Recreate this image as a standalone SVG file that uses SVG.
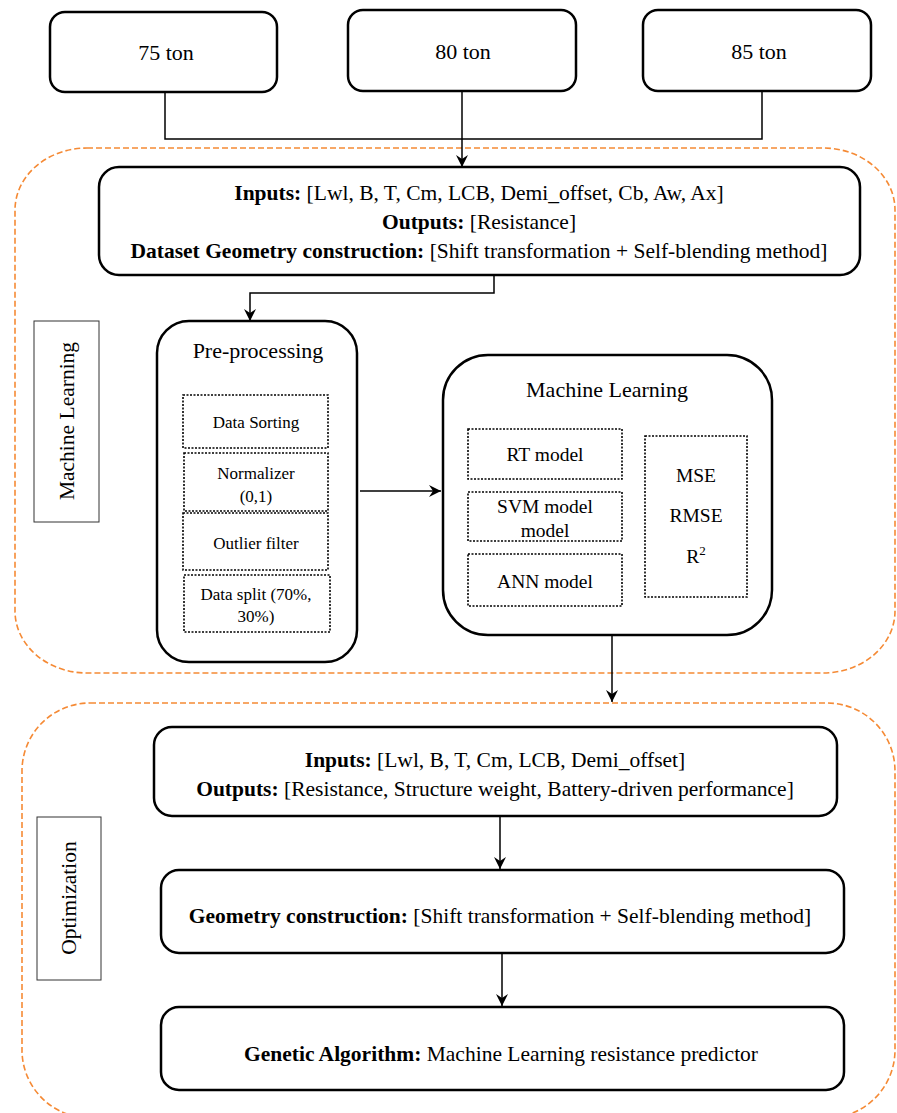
<svg xmlns="http://www.w3.org/2000/svg" width="897" height="1113" viewBox="0 0 897 1113">
<style>
text{font-family:"Liberation Serif","Times New Roman",serif;fill:#000;text-anchor:middle}
.t21{font-size:21.5px}
.t22{font-size:22px}
.t17{font-size:17px}
.t19{font-size:19.5px}
.b{font-weight:bold}
.box{fill:#fff;stroke:#000;stroke-width:2.5}
.dot{fill:#fff;stroke:#000;stroke-width:1.6;stroke-dasharray:2 1.5}
.lab{fill:#fff;stroke:#333;stroke-width:1}
.grp{fill:none;stroke:#f58a35;stroke-width:1.6;stroke-dasharray:6 3}
.con{fill:none;stroke:#000;stroke-width:1.5}
</style>
<defs>
<marker id="ah" viewBox="0 0 12 12" refX="12" refY="6" markerWidth="12" markerHeight="12" markerUnits="userSpaceOnUse" orient="auto">
<path d="M0,0 L12,6 L0,12 L4,6 Z" fill="#000"/>
</marker>
</defs>
<rect width="897" height="1113" fill="#fff"/>
<g id="groups">
<rect class="grp" x="15" y="148" width="880" height="525" rx="72" ry="62"/>
<rect class="grp" x="22" y="703" width="873" height="415" rx="68" ry="68"/>
</g>
<g id="connectors">
<path class="con" d="M165,92 V139 H762 V91"/>
<path class="con" d="M462,91 V167" marker-end="url(#ah)"/>
<path class="con" d="M494,275 V293 H250 V321" marker-end="url(#ah)"/>
<path class="con" d="M360,491 H441" marker-end="url(#ah)"/>
<path class="con" d="M612,635 V702" marker-end="url(#ah)"/>
<path class="con" d="M500,816 V869" marker-end="url(#ah)"/>
<path class="con" d="M502,953 V1006" marker-end="url(#ah)"/>
</g>
<g id="n75">
<rect class="box" x="50" y="12" width="227" height="80" rx="15"/>
<text class="t22" x="166" y="60">75 ton</text>
</g>
<g id="n80">
<rect class="box" x="348" y="10" width="228" height="81" rx="15"/>
<text class="t22" x="463" y="59">80 ton</text>
</g>
<g id="n85">
<rect class="box" x="643" y="10" width="228" height="81" rx="15"/>
<text class="t22" x="759" y="59">85 ton</text>
</g>
<g id="dataset">
<rect class="box" x="99" y="167" width="761" height="108" rx="20"/>
<text class="t21" x="479" y="200"><tspan class="b">Inputs:</tspan> [Lwl, B, T, Cm, LCB, Demi_offset, Cb, Aw, Ax]</text>
<text class="t21" x="479" y="229"><tspan class="b">Outputs:</tspan> [Resistance]</text>
<text class="t21" x="479" y="258"><tspan class="b">Dataset Geometry construction:</tspan> [Shift transformation + Self-blending method]</text>
</g>
<g id="label-ml">
<rect class="lab" x="34" y="321" width="65" height="201"/>
<text class="t21" transform="translate(74,421) rotate(-90)">Machine Learning</text>
</g>
<g id="preprocessing">
<rect class="box" x="157" y="321" width="200" height="341" rx="32"/>
<text class="t22" x="258" y="358">Pre-processing</text>
<rect class="dot" x="183" y="395" width="145" height="53"/>
<text class="t17" x="256" y="428">Data Sorting</text>
<rect class="dot" x="184" y="453" width="144" height="58"/>
<text class="t17" x="256" y="479">Normalizer</text>
<text class="t17" x="256" y="502">(0,1)</text>
<rect class="dot" x="183" y="513" width="145" height="57"/>
<text class="t17" x="256" y="549">Outlier  filter</text>
<rect class="dot" x="184" y="575" width="146" height="57"/>
<text class="t17" x="256" y="600">Data split (70%,</text>
<text class="t17" x="256" y="622">30%)</text>
</g>
<g id="machinelearning">
<rect class="box" x="443" y="355" width="329" height="280" rx="45"/>
<text class="t22" x="607" y="397">Machine Learning</text>
<rect class="dot" x="468" y="429" width="154" height="50"/>
<text class="t19" x="545" y="461">RT model</text>
<rect class="dot" x="468" y="492" width="154" height="49"/>
<text class="t19" x="545" y="513">SVM model</text>
<text class="t19" x="545" y="537">model</text>
<rect class="dot" x="468" y="554" width="154" height="52"/>
<text class="t19" x="545" y="588">ANN model</text>
<rect class="dot" x="645" y="436" width="102" height="161"/>
<text class="t19" x="696" y="482">MSE</text>
<text class="t19" x="696" y="522">RMSE</text>
<text class="t19" x="696" y="563">R<tspan font-size="13" dy="-8">2</tspan></text>
</g>
<g id="label-opt">
<rect class="lab" x="37" y="817" width="64" height="163"/>
<text class="t21" transform="translate(76,898) rotate(-90)">Optimization</text>
</g>
<g id="opt-inputs">
<rect class="box" x="154" y="727" width="683" height="89" rx="18"/>
<text class="t21" x="495" y="767"><tspan class="b">Inputs:</tspan> [Lwl, B, T, Cm, LCB, Demi_offset]</text>
<text class="t21" x="495" y="796"><tspan class="b">Outputs:</tspan> [Resistance, Structure weight, Battery-driven performance]</text>
</g>
<g id="geometry">
<rect class="box" x="161" y="870" width="683" height="83" rx="18"/>
<text class="t21" x="500" y="923"><tspan class="b">Geometry construction:</tspan> [Shift transformation + Self-blending method]</text>
</g>
<g id="ga">
<rect class="box" x="161" y="1007" width="683" height="83" rx="18"/>
<text class="t21" x="501" y="1061"><tspan class="b">Genetic Algorithm:</tspan> Machine Learning resistance predictor</text>
</g>
</svg>
